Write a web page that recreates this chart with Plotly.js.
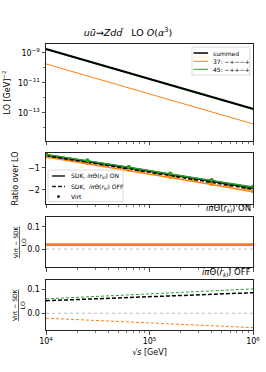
<!DOCTYPE html>
<html><head><meta charset="utf-8">
<script src="https://cdn.plot.ly/plotly-3.0.1.min.js"></script>
<style>html,body{margin:0;padding:0;background:#fff}#c{width:266px;height:372px}</style>
</head><body><div id="c"></div>
<script>
// ---- data ----
const sqrtS = [1e4, 2.512e4, 6.310e4, 1.585e5, 3.981e5, 1e6];
const loSummed = [1.86e-9, 2.95e-10, 4.68e-11, 7.41e-12, 1.17e-12, 1.86e-13];
const lo37 = [1.86e-10, 2.95e-11, 4.68e-12, 7.41e-13, 1.17e-13, 1.86e-14];
const lo45 = [1.68e-9, 2.66e-10, 4.22e-11, 6.69e-12, 1.06e-12, 1.68e-13];
const ratioOnSummed = [-0.41, -0.69, -0.99, -1.29, -1.59, -1.90];
const ratioOn37 = [-0.50, -0.80, -1.11, -1.43, -1.75, -2.08];
const ratioOn45 = [-0.39, -0.67, -0.97, -1.27, -1.57, -1.87];
const ratioOffSummed = [-0.443, -0.730, -1.037, -1.343, -1.650, -1.967];
const ratioOff37 = [-0.457, -0.749, -1.051, -1.363, -1.675, -1.997];
const ratioOff45 = [-0.432, -0.720, -1.029, -1.337, -1.646, -1.954];
const virtSummed = [-0.39, -0.67, -0.97, -1.27, -1.57, -1.88];
const virt37 = [-0.478, -0.778, -1.088, -1.408, -1.728, -2.058];
const virt45 = [-0.371, -0.651, -0.951, -1.251, -1.551, -1.851];
const diffOnSummed = [0.020, 0.020, 0.020, 0.020, 0.020, 0.020];
const diffOn37 = [0.022, 0.022, 0.022, 0.022, 0.022, 0.022];
const diffOn45 = [0.019, 0.019, 0.019, 0.019, 0.019, 0.019];
const diffOffSummed = [0.053, 0.060, 0.067, 0.073, 0.080, 0.087];
const diffOff37 = [-0.021, -0.029, -0.037, -0.045, -0.053, -0.061];
const diffOff45 = [0.061, 0.069, 0.078, 0.086, 0.095, 0.103];
const seriesNames = ['summed', '37: −+−−+', '45: −++−+'];
const styleNames = ['SDK, <i>iπ</i>Θ(<i>r</i><sub><i>kl</i></sub>) ON', 'SDK,  <i>iπ</i>Θ(<i>r</i><sub><i>kl</i></sub>) OFF', 'Virt'];
const xTickVals = [1e4, 1e5, 1e6];
const xTickText = ['10<sup>4</sup>', '10<sup>5</sup>', '10<sup>6</sup>'];
const xMinor = [2e4,3e4,4e4,5e4,6e4,7e4,8e4,9e4,2e5,3e5,4e5,5e5,6e5,7e5,8e5,9e5];
const loTickVals = [1e-9, 1e-11, 1e-13];
const loTickText = ['10<sup>−9</sup>', '10<sup>−11</sup>', '10<sup>−13</sup>'];

const BLACK = '#000000', ORANGE = '#ff7f0e', GREEN = '#2ca02c';
const F = 'DejaVu Sans';
const traces = [];
// panel 1
traces.push({x: sqrtS, y: lo37, xaxis:'x', yaxis:'y', mode:'lines', name: seriesNames[1], showlegend:false, line:{color:ORANGE, width:1}});
traces.push({x: sqrtS, y: lo45, xaxis:'x', yaxis:'y', mode:'lines', name: seriesNames[2], showlegend:false, line:{color:GREEN, width:1}});
traces.push({x: sqrtS, y: loSummed, xaxis:'x', yaxis:'y', mode:'lines', name: seriesNames[0], showlegend:false, line:{color:BLACK, width:2}});
// panel 2
const p2 = (y, c, dash, w) => ({x: sqrtS, y: y, xaxis:'x2', yaxis:'y2', mode:'lines', showlegend:false, line:{color:c, width:w, dash:dash}});
traces.push(p2(ratioOnSummed, BLACK, 'solid', 2));
traces.push(p2(ratioOn37, ORANGE, 'solid', 1.5));
traces.push(p2(ratioOn45, GREEN, 'solid', 1.5));
traces.push(p2(ratioOff37, ORANGE, 'dash', 1.5));
traces.push(p2(ratioOff45, GREEN, 'dash', 1.5));
traces.push(p2(ratioOffSummed, BLACK, '4px,2px', 1.5));
const pm = (y, c) => ({x: sqrtS, y: y, xaxis:'x2', yaxis:'y2', mode:'markers', showlegend:false, marker:{color:c, size:4}});
traces.push(pm(virt37, ORANGE));
traces.push(pm(virtSummed, BLACK));
traces.push(pm(virt45, GREEN));
// panel 3
const p3 = (y, c) => ({x: sqrtS, y: y, xaxis:'x3', yaxis:'y3', mode:'lines', showlegend:false, line:{color:c, width:1.5}});
traces.push(p3(diffOnSummed, BLACK));
traces.push(p3(diffOn45, GREEN));
traces.push(p3(diffOn37, ORANGE));
// panel 4
const p4 = (y, c, w, d) => ({x: sqrtS, y: y, xaxis:'x4', yaxis:'y4', mode:'lines', showlegend:false, line:{color:c, width:w, dash:d}});
traces.push(p4(diffOff45, GREEN, 1, '3px,2px'));
traces.push(p4(diffOff37, ORANGE, 1, '3px,2px'));
traces.push(p4(diffOffSummed, BLACK, 1.5, '4px,2px'));

const tf = {family:F, size:8, color:'#000'};
const xbase = (anchor, labels) => ({
  type:'log', range:[4,6], anchor: anchor, showgrid:false, zeroline:false,
  showline:true, mirror:true, linecolor:'#222', linewidth:1,
  ticks:'outside', ticklen:3.5, tickwidth:0.8, tickcolor:'#222',
  tickmode:'array', tickvals:xTickVals, ticktext:xTickText, showticklabels:labels,
  tickfont: tf,
  minor:{tickmode:'array', tickvals:xMinor, ticks:'outside', ticklen:2, tickwidth:0.6, tickcolor:'#222'}
});
const ybase = (dom, extra) => Object.assign({
  domain: dom, showgrid:false, zeroline:false,
  showline:true, mirror:true, linecolor:'#222', linewidth:1,
  ticks:'outside', ticklen:3.5, tickwidth:0.8, tickcolor:'#222', tickfont: tf
}, extra);

const shapes = [
  {type:'line', xref:'x3 domain', yref:'y3', x0:0, x1:1, y0:0, y1:0, line:{color:'#aaa', width:0.8, dash:'dot'}, layer:'below'},
  {type:'line', xref:'x4 domain', yref:'y4', x0:0, x1:1, y0:0, y1:0, line:{color:'#aaa', width:0.8, dash:'dot'}, layer:'below'},
  // legend 1 box and symbols
  {type:'rect', xref:'paper', yref:'paper', x0:0.7053, x1:0.9855, y0:0.8916, y1:0.9895, fillcolor:'rgba(255,255,255,0.85)', line:{color:'#d0d0d0', width:0.8}},
  {type:'line', xref:'paper', yref:'paper', x0:0.7126, x1:0.7826, y0:0.9685, y1:0.9685, line:{color:BLACK, width:1.5}},
  {type:'line', xref:'paper', yref:'paper', x0:0.7126, x1:0.7826, y0:0.9395, y1:0.9395, line:{color:ORANGE, width:1}},
  {type:'line', xref:'paper', yref:'paper', x0:0.7126, x1:0.7826, y0:0.9115, y1:0.9115, line:{color:GREEN, width:1}},
  // legend 2 box and symbols
  {type:'rect', xref:'paper', yref:'paper', x0:0.0097, x1:0.372, y0:0.4493, y1:0.5594, fillcolor:'rgba(255,255,255,0.85)', line:{color:'#d0d0d0', width:0.8}},
  {type:'line', xref:'paper', yref:'paper', x0:0.029, x1:0.0918, y0:0.5385, y1:0.5385, line:{color:'#222', width:1.5}},
  {type:'line', xref:'paper', yref:'paper', x0:0.029, x1:0.0918, y0:0.5017, y1:0.5017, line:{color:'#222', width:1.5, dash:'4px,2px'}},
  {type:'circle', xref:'paper', yref:'paper', xsizemode:'pixel', ysizemode:'pixel', xanchor:0.0604, yanchor:0.4668, x0:-1.5, x1:1.5, y0:-1.5, y1:1.5, fillcolor:'#222', line:{width:0}}
];
const lf = {family:F, size:6, color:'#000'};
const legAnn = (t, x, y) => ({text:t, xref:'paper', yref:'paper', x:x, y:y, xanchor:'left', yanchor:'middle', showarrow:false, font:lf});

const layout = {
  width:266, height:372, paper_bgcolor:'#fff', plot_bgcolor:'#fff',
  margin:{l:46, r:13, t:44, b:42},
  font:{family:F, size:8, color:'#000'},
  showlegend:false,
  title:{text:'<i>uū</i>→<i>Zdd̄</i>   LO <i>O</i>(<i>α</i><sup>3</sup>)', font:{family:F, size:9.5, color:'#000'},
         xref:'paper', x:0.396, xanchor:'center', yref:'container', y:0.911, yanchor:'middle'},
  xaxis: xbase('y', false),
  xaxis2: Object.assign(xbase('y2', false), {matches:'x'}),
  xaxis3: Object.assign(xbase('y3', false), {matches:'x'}),
  xaxis4: Object.assign(xbase('y4', true), {matches:'x', title:{text:'√<i>s</i> [GeV]', font:{family:F, size:8}, standoff:4}}),
  yaxis: ybase([0.661, 1.0], {type:'log', range:[-14.87, -8.4], tickmode:'array', tickvals:loTickVals, ticktext:loTickText,
      minor:{tickmode:'array', tickvals:[1e-10,1e-12,1e-14], ticks:'outside', ticklen:2, tickwidth:0.6, tickcolor:'#222'},
      title:{text:'LO [GeV]<sup>−2</sup>', font:{family:F, size:8}, standoff:6}}),
  yaxis2: ybase([0.4406, 0.619], {range:[-2.636, -0.318], tickmode:'array', tickvals:[-1,-2], ticktext:['−1','−2'],
      title:{text:'Ratio over LO', font:{family:F, size:8}, standoff:8}}),
  yaxis3: ybase([0.220, 0.395], {range:[-0.081, 0.144], tickmode:'array', tickvals:[0, 0.1], ticktext:['0.0','0.1']}),
  yaxis4: ybase([0.0, 0.175], {range:[-0.071, 0.141], tickmode:'array', tickvals:[0, 0.1], ticktext:['0.0','0.1']}),
  shapes: shapes,
  annotations:[
    {text:'<i>iπ</i>Θ(<i>r</i><sub><i>kl</i></sub>) ON', xref:'paper', yref:'paper', x:1, y:0.395, xanchor:'right', yanchor:'bottom', showarrow:false, font:{family:F, size:8.5}, yshift:1},
    {text:'<i>iπ</i>Θ(<i>r</i><sub><i>kl</i></sub>) OFF', xref:'paper', yref:'paper', x:1, y:0.175, xanchor:'right', yanchor:'bottom', showarrow:false, font:{family:F, size:8.5}, yshift:0},
    {text:'<u>Virt − SDK</u><br>LO', xref:'paper', yref:'paper', x:-0.13, y:0.3075, xanchor:'center', yanchor:'middle', textangle:-90, showarrow:false, font:{family:F, size:6}},
    {text:'<u>Virt − SDK</u><br>LO', xref:'paper', yref:'paper', x:-0.13, y:0.0875, xanchor:'center', yanchor:'middle', textangle:-90, showarrow:false, font:{family:F, size:6}},
    legAnn(seriesNames[0], 0.7971, 0.9685),
    legAnn(seriesNames[1], 0.7971, 0.9395),
    legAnn(seriesNames[2], 0.7971, 0.9115),
    legAnn(styleNames[0], 0.111, 0.5385),
    legAnn(styleNames[1], 0.111, 0.5017),
    legAnn(styleNames[2], 0.111, 0.4668)
  ]
};
Plotly.newPlot('c', traces, layout, {staticPlot:true, displayModeBar:false});
</script></body></html>
